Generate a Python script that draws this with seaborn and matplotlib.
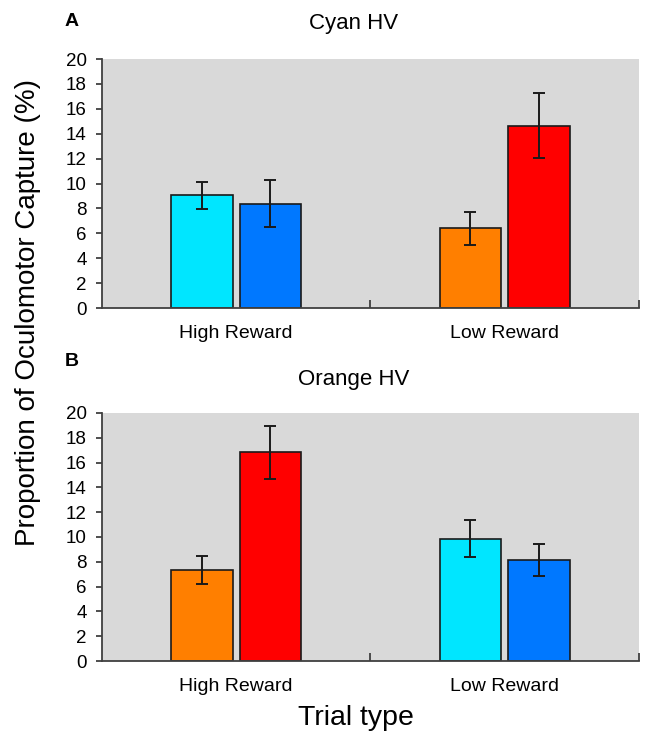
import numpy as np
import pandas as pd
import matplotlib.pyplot as plt
import seaborn as sns

sns.set_theme(style="white")
plt.rcParams['font.family'] = ['Liberation Sans', 'DejaVu Sans']
plt.rcParams['text.color'] = 'black'
plt.rcParams['xtick.color'] = 'black'
plt.rcParams['ytick.color'] = 'black'

# datos
trials = ["High Reward", "Low Reward"]
stim_colors = {"Cyan": "#00E6FF", "Blue": "#0078FF", "Orange": "#FF7F00", "Red": "#FF0000"}

trial_a = ["High Reward", "High Reward", "Low Reward", "Low Reward"]
slot_a = ["1", "2", "1", "2"]
stim_a = ["Cyan", "Blue", "Orange", "Red"]
mean_a = [9.06, 8.39, 6.41, 14.64]
err_a = [1.07, 1.88, 1.33, 2.60]

trial_b = ["High Reward", "High Reward", "Low Reward", "Low Reward"]
slot_b = ["1", "2", "1", "2"]
stim_b = ["Orange", "Red", "Cyan", "Blue"]
mean_b = [7.34, 16.83, 9.87, 8.15]
err_b = [1.14, 2.15, 1.47, 1.27]

yticks = list(range(0, 21, 2))


def draw_panel(ax, trial, slot, stim, mean, err):
    df = pd.DataFrame({"trial": trial, "slot": slot, "stim": stim, "mean": mean, "err": err})
    sns.barplot(data=df, x="trial", y="mean", hue="slot", order=trials,
                width=0.51, gap=0.1, legend=False, ax=ax,
                edgecolor="#1a1a1a", linewidth=1.2)
    # color de cada barra según el estímulo + barras de error
    for p in ax.patches:
        h = p.get_height()
        i = int(np.argmin(np.abs(df["mean"].values - h)))
        p.set_facecolor(stim_colors[df["stim"].iloc[i]])
        cx = p.get_x() + p.get_width() / 2
        ax.errorbar(cx, h, yerr=df["err"].iloc[i], fmt="none", ecolor="#1a1a1a",
                    elinewidth=1.4, capsize=4, capthick=1.4, zorder=5)
    ax.set_facecolor("#D9D9D9")
    ax.set_xlim(-0.5, 1.5)
    ax.set_ylim(0, 20)
    ax.set_yticks(yticks)
    ax.set_xlabel("")
    ax.set_ylabel("")
    for s in ["top", "right"]:
        ax.spines[s].set_visible(False)
    for s in ["left", "bottom"]:
        ax.spines[s].set_color("#404040")
        ax.spines[s].set_linewidth(1.3)
    ax.tick_params(axis="y", which="major", left=True, direction="out", length=4,
                   width=1.3, color="#404040", labelsize=13.5, pad=7)
    ax.tick_params(axis="x", which="major", bottom=False, labelsize=14, pad=6)
    ax.set_xticks([0.5, 1.5], minor=True)
    ax.tick_params(axis="x", which="minor", bottom=True, direction="in", length=6,
                   width=1.3, color="#404040")


fig = plt.figure(figsize=(6.45, 7.36), dpi=100)
ax_a = fig.add_axes([0.158, 0.5815, 0.8326, 0.3383])
ax_b = fig.add_axes([0.158, 0.1019, 0.8326, 0.337])

draw_panel(ax_a, trial_a, slot_a, stim_a, mean_a, err_a)
draw_panel(ax_b, trial_b, slot_b, stim_b, mean_b, err_b)

fig.text(65 / 645, 1 - 21 / 736, "A", fontsize=14, fontweight="bold", ha="left", va="center")
fig.text(354 / 645, 1 - 24 / 736, "Cyan HV", fontsize=16, ha="center", va="center")
fig.text(65 / 645, 1 - 361 / 736, "B", fontsize=14, fontweight="bold", ha="left", va="center")
fig.text(354 / 645, 1 - 379 / 736, "Orange HV", fontsize=16, ha="center", va="center")

fig.text(28 / 645, 1 - 312 / 736, "Proportion of Oculomotor Capture (%)", fontsize=20,
         rotation=90, ha="center", va="center")
fig.text(356 / 645, 1 - 718 / 736, "Trial type", fontsize=20.5, ha="center", va="center")

fig.savefig("out.png", dpi=100)
